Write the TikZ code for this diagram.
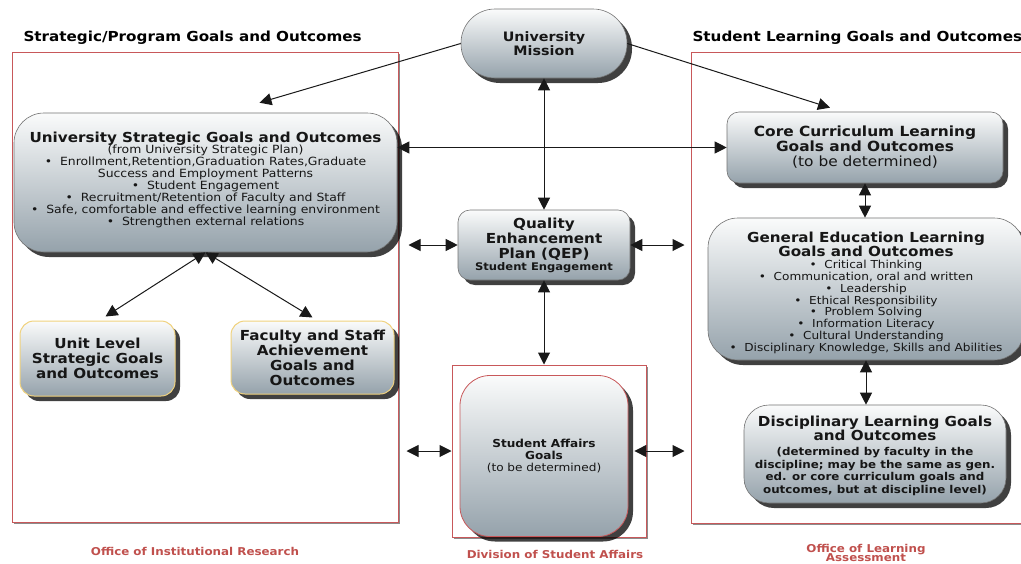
\documentclass[tikz,border=0pt]{standalone}
\usepackage{fontspec}
\setmainfont{DejaVu Sans}[FakeStretch=1.1]
\usepackage{xcolor}
\usepackage{tikz}
\usetikzlibrary{arrows.meta,shadows,calc}
\definecolor{framered}{HTML}{C8585A}
\definecolor{officered}{HTML}{C0504D}
\definecolor{boxtop}{HTML}{FAFBFB}
\definecolor{boxbot}{HTML}{95A2AB}
\definecolor{gold}{HTML}{F0D27E}
\definecolor{ink}{HTML}{161616}
\newcommand\bigline[1]{{\fontsize{13.8}{15}\selectfont\bfseries #1}}
\tikzset{
  goal/.style={draw=black!55, line width=0.6pt, top color=boxtop, bottom color=boxbot,
    align=center, text=ink, inner sep=0pt,
    drop shadow={shadow xshift=5pt, shadow yshift=-5pt, fill=black, opacity=0.75}},
  unitbox/.style={goal, draw=gold, line width=1pt},
  sabox/.style={goal, draw=framered, line width=0.8pt},
  area/.style={draw=framered, line width=1pt, fill=white, inner sep=0pt,
    drop shadow={shadow xshift=2pt, shadow yshift=-2pt, fill=black!45, opacity=1}},
  tip/.tip={Triangle[length=12pt,width=12pt]},
  link/.style={draw=black!90, line width=1pt, -tip},
  both/.style={draw=black!90, line width=1pt, tip-tip},
  head/.style={font=\fontsize{13.8}{15}\selectfont\bfseries, anchor=west},
  big/.style={font=\fontsize{13.8}{15}\selectfont\bfseries},
  office/.style={text=officered, font=\fontsize{10.8}{11.5}\selectfont\bfseries, align=center},
}

\begin{document}
\begin{tikzpicture}[x=1pt,y=-1pt]
  \useasboundingbox (0,0) rectangle (1021,563);
  % areas
  \node[area, minimum width=386pt, minimum height=470pt] (leftframe) at (205,287) {};
  \node[area, minimum width=344pt, minimum height=471pt] (rightframe) at (863,287.5) {};
  \node[area, minimum width=194pt, minimum height=172pt] (midframe) at (549,451) {};
  \node[head] (lefthead) at (20,38) {Strategic/Program Goals and Outcomes};
  \node[head] (righthead) at (689,38) {Student Learning Goals and Outcomes};
  % goal boxes
  \node[goal, font=\fontsize{13}{14.5}\selectfont\bfseries, rounded corners=34pt,
    minimum width=166pt, minimum height=69pt] (mission)
    at (544,43.5) {University\\Mission};
  \node[goal, rounded corners=30pt, minimum width=383pt, minimum height=139pt,
    font=\fontsize{11.3}{12}\selectfont] (usgo) at (205.5,182.5)
    {\bigline{University Strategic Goals and Outcomes}\\[-1pt]
     (from University Strategic Plan)\\
     \textbullet\ \ Enrollment,Retention,Graduation Rates,Graduate\\
     Success and Employment Patterns\\
     \textbullet\ \ Student Engagement\\
     \textbullet\ \ Recruitment/Retention of Faculty and Staff\\
     \textbullet\ \ Safe, comfortable and effective learning environment\\
     \textbullet\ \ Strengthen external relations\\[-4pt]\mbox{}};
  \node[goal, big, rounded corners=12pt, minimum width=172pt, minimum height=70pt] (qep)
    at (544,245) {Quality\\Enhancement\\Plan (QEP)\\[-3pt]{\fontsize{10.5}{11}\selectfont Student Engagement}};
  \node[unitbox, big, rounded corners=14pt, minimum width=155pt, minimum height=75pt] (unit)
    at (97.5,358.5) {Unit Level\\Strategic Goals\\and Outcomes};
  \node[unitbox, big, rounded corners=14pt, minimum width=163pt, minimum height=73pt] (fac)
    at (312.5,357.5) {Faculty and Staff\\Achievement\\Goals and\\Outcomes};
  \node[sabox, rounded corners=30pt, minimum width=168pt, minimum height=161pt,
    font=\fontsize{11}{12}\selectfont] (sa) at (544,456)
    {\textbf{Student Affairs}\\\textbf{Goals}\\(to be determined)};
  \node[goal, font=\fontsize{14}{15}\selectfont\bfseries, rounded corners=12pt,
    minimum width=276pt, minimum height=71pt] (core)
    at (865,147.5) {Core Curriculum Learning\\Goals and Outcomes\\{\mdseries (to be determined)}};
  \node[goal, rounded corners=30pt, minimum width=316pt, minimum height=142pt,
    font=\fontsize{11}{11.8}\selectfont] (gen) at (866,289)
    {\bigline{\rule{0pt}{18pt}General Education Learning}\\
     \bigline{Goals and Outcomes}\\
     \textbullet\ \ Critical Thinking\\
     \textbullet\ \ Communication, oral and written\\
     \textbullet\ \ Leadership\\
     \textbullet\ \ Ethical Responsibility\\
     \textbullet\ \ Problem Solving\\
     \textbullet\ \ Information Literacy\\
     \textbullet\ \ Cultural Understanding\\
     \textbullet\ \ Disciplinary Knowledge, Skills and Abilities};
  \node[goal, rounded corners=25pt, minimum width=262pt, minimum height=98pt,
    font=\fontsize{10.8}{12.8}\selectfont\bfseries] (disc) at (875,454)
    {\bigline{\rule{0pt}{14pt}Disciplinary Learning Goals}\\
     \bigline{and Outcomes}\\[2pt]
     (determined by faculty in the\\
     discipline; may be the same as gen.\\
     ed. or core curriculum goals and\\
     outcomes, but at discipline level)};
  % offices
  \node[office] (oir) at (195,551) {Office of Institutional Research};
  \node[office] (dsa) at (555,554) {Division of Student Affairs};
  \node[office] (ola) at (866,553) {Office of Learning\\[-2pt]Assessment};
  % connectors
  \draw[link] (mission.west) -- ([xshift=54pt,yshift=10pt]usgo.north);
  \draw[link] (mission.east) -- ([xshift=-35pt,yshift=4pt]core.north);
  \draw[both] (mission.south) -- (qep.north);
  \draw[both] (core.west) -- (core.west -| usgo.east);
  \draw[both] (qep.south) -- (qep.south |- midframe.north);
  \draw[both] (usgo.south) -- ([xshift=8pt,yshift=4pt]unit.north);
  \draw[both] (usgo.south) -- ([yshift=3pt]fac.north);
  \draw[both] ([xshift=10pt]leftframe.east |- qep.west) -- (qep.west);
  \draw[both] (qep.east) -- ([xshift=-6pt]rightframe.west |- qep.east);
  \draw[both] ([xshift=8pt]leftframe.east |- midframe.west) -- (midframe.west);
  \draw[both] ([xshift=6pt]sa.east |- midframe.east) -- ([xshift=-6pt]rightframe.west |- midframe.east);
  \draw[both] (core.south) -- (core.south |- gen.north);
  \draw[both] (gen.south) -- (gen.south |- disc.north);
\end{tikzpicture}
\end{document}
